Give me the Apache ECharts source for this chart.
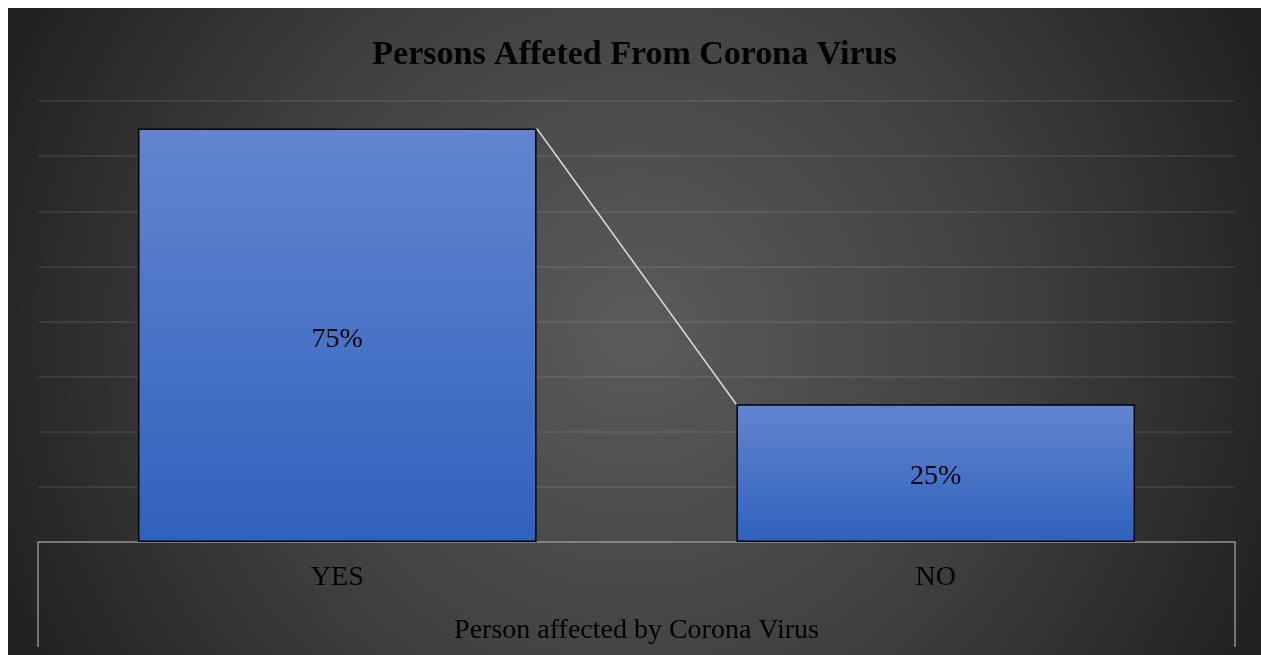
<!DOCTYPE html>
<html>
<head>
<meta charset="utf-8">
<script src="https://cdn.jsdelivr.net/npm/echarts@6/dist/echarts.min.js"></script>
<style>
html,body{margin:0;padding:0;background:#fff;width:1261px;height:655px;overflow:hidden;}
#chart{position:absolute;left:8px;top:8px;width:1253px;height:647px;}
</style>
</head>
<body>
<div id="chart"></div>
<script>
var titleText = 'Persons Affeted From Corona Virus';
var axisTitle = 'Person affected by Corona Virus';
var categories = ['YES', 'NO'];
var values = [0.75, 0.25];
var yMin = 0, yMax = 0.8, yInterval = 0.1;

var FONT = '"Liberation Serif", "Times New Roman", serif';
var chart = echarts.init(document.getElementById('chart'));
var barRatio = 2 / 3;

chart.setOption({
  backgroundColor: {
    type: 'radial', x: 0.5, y: 0.5, r: 1.05,
    colorStops: [
      {offset: 0, color: '#5b5b5b'},
      {offset: 0.55, color: '#404040'},
      {offset: 1, color: '#222222'}
    ]
  },
  title: {
    text: titleText, left: 'center', top: 25,
    textStyle: {fontFamily: FONT, fontWeight: 'bold', fontSize: 34, color: '#000'}
  },
  grid: {left: 30, right: 26, top: 93, bottom: 113},
  xAxis: {
    type: 'category', data: categories,
    boundaryGap: true,
    axisLine: {lineStyle: {color: '#8e8e8e', width: 1.5}},
    axisTick: {show: true, length: 105, interval: function (i) { return i === 0; }, lineStyle: {color: '#8e8e8e', width: 1.5}},
    axisLabel: {color: '#000', fontFamily: FONT, fontSize: 28, margin: 22},
    name: axisTitle, nameLocation: 'middle', nameGap: 75,
    nameTextStyle: {color: '#000', fontFamily: FONT, fontSize: 28}
  },
  yAxis: {
    type: 'value', min: yMin, max: yMax, interval: yInterval,
    axisLabel: {show: false}, axisLine: {show: false}, axisTick: {show: false},
    splitLine: {lineStyle: {color: 'rgba(255,255,255,0.1)', width: 1.5}}
  },
  series: [
    {
      type: 'bar', data: values, barCategoryGap: '33.4%',
      itemStyle: {
        borderColor: '#000', borderWidth: 1.5,
        color: {type: 'linear', x: 0, y: 0, x2: 0, y2: 1,
          colorStops: [{offset: 0, color: '#6385cf'}, {offset: 1, color: '#2f62bd'}]}
      },
      label: {
        show: true, position: 'inside', offset: [0, 4], color: '#000', fontFamily: FONT, fontSize: 28,
        formatter: function (p) { return Math.round(p.value * 100) + '%'; }
      },
      z: 2
    },
    {
      type: 'custom', data: values, z: 3, silent: true,
      renderItem: function (params, api) {
        var i = params.dataIndex;
        if (i >= values.length - 1) return null;
        var p0 = api.coord([i, values[i]]);
        var p1 = api.coord([i + 1, values[i + 1]]);
        var bw = api.size([1, 0])[0] * barRatio;
        return {
          type: 'line',
          shape: {x1: p0[0] + bw / 2, y1: p0[1], x2: p1[0] - bw / 2, y2: p1[1]},
          style: {stroke: '#d9d9d9', lineWidth: 1.5}
        };
      }
    }
  ]
});
</script>
</body>
</html>
